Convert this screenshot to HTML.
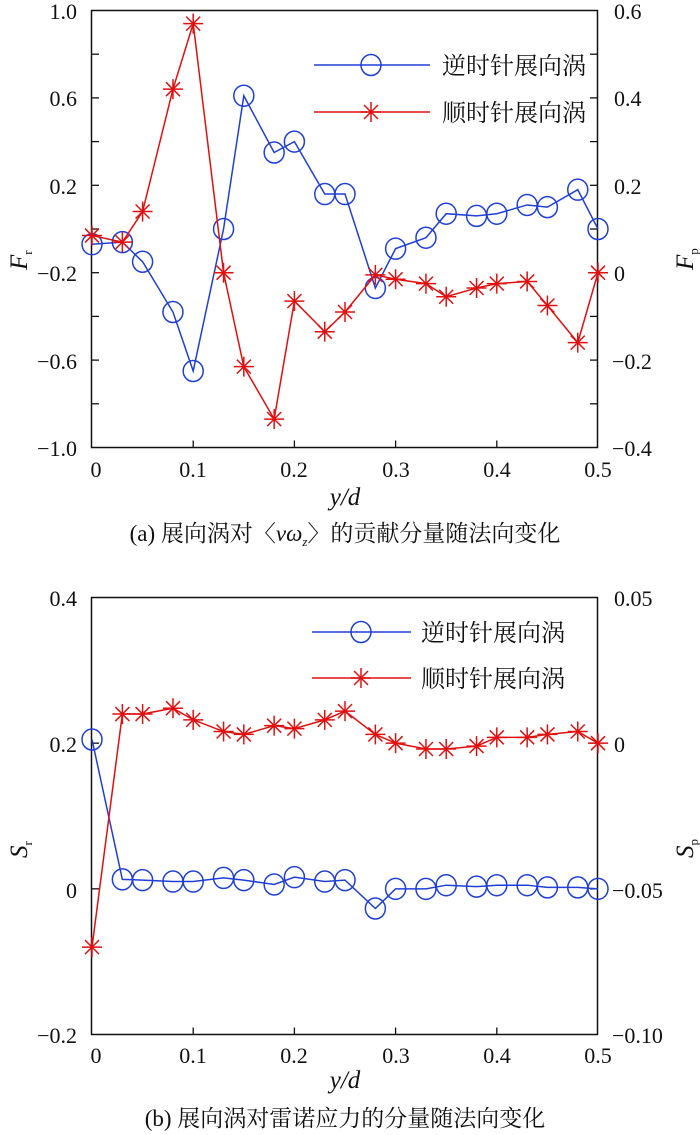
<!DOCTYPE html>
<html><head><meta charset="utf-8"><style>
html,body{margin:0;padding:0;background:#fff;}
svg{display:block;}
text{font-family:"Liberation Serif","Noto Serif CJK SC",serif;fill:#111;font-size:22px;}
.cj{font-family:"Liberation Serif","Noto Serif CJK SC","Noto Sans CJK SC",serif;font-size:23px;}
.lg{font-size:24px;}
.sub{font-size:13px;}
.ax{font-size:25px;}
</style></head><body>
<svg id="s" width="700" height="1135" viewBox="0 0 700 1135" xmlns="http://www.w3.org/2000/svg">
<g>
<rect x="91.5" y="10.5" width="506" height="437" fill="none" stroke="#111" stroke-width="1.5"/>
<text x="77" y="19" text-anchor="end">1.0</text>
<text x="77" y="106" text-anchor="end">0.6</text>
<text x="77" y="194" text-anchor="end">0.2</text>
<text x="77" y="281" text-anchor="end">−0.2</text>
<text x="77" y="369" text-anchor="end">−0.6</text>
<text x="77" y="456" text-anchor="end">−1.0</text>
<text x="614" y="19">0.6</text>
<text x="614" y="106">0.4</text>
<text x="614" y="194">0.2</text>
<text x="614" y="281">0</text>
<text x="612" y="369">−0.2</text>
<text x="612" y="456">−0.4</text>
<text x="96" y="477" text-anchor="middle">0</text>
<text x="193" y="477" text-anchor="middle">0.1</text>
<text x="294" y="477" text-anchor="middle">0.2</text>
<text x="396" y="477" text-anchor="middle">0.3</text>
<text x="497" y="477" text-anchor="middle">0.4</text>
<text x="598" y="477" text-anchor="middle">0.5</text>
<text x="345" y="505" text-anchor="middle" font-style="italic" class="ax">y/d</text>
<text x="345" y="541" text-anchor="middle" class="cj">(a) 展向涡对〈<tspan font-style="italic">vω</tspan><tspan font-style="italic" class="sub" dy="5">z</tspan><tspan dy="-5">〉的贡献分量随法向变化</tspan></text>
<text transform="translate(27,270) rotate(-90)" font-style="italic" class="ax">F<tspan class="sub" font-style="normal" dy="5">r</tspan></text>
<text transform="translate(693,270) rotate(-90)" font-style="italic" class="ax">F<tspan class="sub" font-style="normal" dy="5">p</tspan></text>
<text x="442" y="74" class="cj lg">逆时针展向涡</text>
<text x="442" y="121" class="cj lg">顺时针展向涡</text>

<rect x="91.5" y="597.5" width="506" height="437" fill="none" stroke="#111" stroke-width="1.5"/>
<text x="77" y="606" text-anchor="end">0.4</text>
<text x="77" y="752" text-anchor="end">0.2</text>
<text x="77" y="898" text-anchor="end">0</text>
<text x="77" y="1043" text-anchor="end">−0.2</text>
<text x="614" y="606">0.05</text>
<text x="614" y="752">0</text>
<text x="612" y="898">−0.05</text>
<text x="612" y="1043">−0.10</text>
<text x="96" y="1063" text-anchor="middle">0</text>
<text x="193" y="1063" text-anchor="middle">0.1</text>
<text x="294" y="1063" text-anchor="middle">0.2</text>
<text x="396" y="1063" text-anchor="middle">0.3</text>
<text x="497" y="1063" text-anchor="middle">0.4</text>
<text x="598" y="1063" text-anchor="middle">0.5</text>
<text x="345" y="1088" text-anchor="middle" font-style="italic" class="ax">y/d</text>
<text x="345" y="1126" text-anchor="middle" class="cj">(b) 展向涡对雷诺应力的分量随法向变化</text>
<text transform="translate(27,858) rotate(-90)" font-style="italic" class="ax">S<tspan class="sub" font-style="normal" dy="5">r</tspan></text>
<text transform="translate(693,858) rotate(-90)" font-style="italic" class="ax">S<tspan class="sub" font-style="normal" dy="5">p</tspan></text>
<text x="421" y="641" class="cj lg">逆时针展向涡</text>
<text x="421" y="687" class="cj lg">顺时针展向涡</text>
</g>
<g id="dyn"></g>
</svg>
<script>
var NS="http://www.w3.org/2000/svg",g=document.getElementById("dyn");
function el(n,a){var e=document.createElementNS(NS,n);for(var k in a)e.setAttribute(k,a[k]);g.appendChild(e);return e;}
var xs=[0,0.03,0.05,0.08,0.1,0.13,0.15,0.18,0.2,0.23,0.25,0.28,0.3,0.33,0.35,0.38,0.4,0.43,0.45,0.48,0.5];
function X(v){return 92+v*1012;}
function circ(x,y){el("ellipse",{cx:x,cy:y,rx:10,ry:10.5,fill:"none",stroke:"#1f3fd6","stroke-width":1.5});}
function star(x,y){var s="#e01010",r=10;
 el("line",{x1:x-r,y1:y,x2:x+r,y2:y,stroke:s,"stroke-width":1.5});
 el("line",{x1:x,y1:y-r,x2:x,y2:y+r,stroke:s,"stroke-width":1.5});
 el("line",{x1:x-7,y1:y-7,x2:x+7,y2:y+7,stroke:s,"stroke-width":1.5});
 el("line",{x1:x-7,y1:y+7,x2:x+7,y2:y-7,stroke:s,"stroke-width":1.5});}
function series(vals,Y,col,mk){var p=[];for(var i=0;i<vals.length;i++)p.push(X(xs[i])+","+Y(vals[i]));
 el("polyline",{points:p.join(" "),fill:"none",stroke:col,"stroke-width":1.5});
 for(i=0;i<vals.length;i++)mk(X(xs[i]),Y(vals[i]));}
function ticks(top,bot,nl,nr){var h=bot-top;
 for(var i=1;i<nl;i++){var y=top+h*i/nl;el("line",{x1:92,y1:y,x2:99,y2:y,stroke:"#111","stroke-width":1.3});}
 for(i=1;i<nr;i++){y=top+h*i/nr;el("line",{x1:597,y1:y,x2:590,y2:y,stroke:"#111","stroke-width":1.3});}
 for(i=1;i<5;i++){var x=X(i*0.1);el("line",{x1:x,y1:bot,x2:x,y2:bot-7,stroke:"#111","stroke-width":1.3});}}
ticks(10.5,447.5,10,10);ticks(597.5,1034.5,3,3);
var fr=[-0.07,-0.06,-0.15,-0.38,-0.65,0.0,0.61,0.35,0.40,0.16,0.16,-0.27,-0.09,-0.04,0.07,0.06,0.07,0.11,0.10,0.18,0.0];
var fp=[0.085,0.07,0.14,0.42,0.57,0.0,-0.215,-0.335,-0.065,-0.135,-0.09,-0.005,-0.015,-0.025,-0.055,-0.035,-0.025,-0.02,-0.075,-0.16,0.0];
series(fr,function(v){return 10.5+(1-v)/2*437;},"#1f3fd6",circ);
series(fp,function(v){return 10.5+(0.6-v)/1*437;},"#e01010",star);
el("line",{x1:314,y1:65,x2:430,y2:65,stroke:"#1f3fd6","stroke-width":1.5});circ(371,65);
el("line",{x1:314,y1:112,x2:430,y2:112,stroke:"#e01010","stroke-width":1.5});star(371,112);
var sr=[0.205,0.013,0.012,0.010,0.010,0.015,0.012,0.006,0.016,0.010,0.012,-0.027,0.0,0.0,0.005,0.003,0.005,0.005,0.002,0.002,0.0];
var sp=[-0.07,0.01,0.01,0.012,0.008,0.004,0.003,0.006,0.005,0.008,0.011,0.003,0.0,-0.002,-0.002,-0.001,0.002,0.002,0.003,0.004,0.0];
series(sr,function(v){return 597.5+(0.4-v)/0.6*437;},"#1f3fd6",circ);
series(sp,function(v){return 597.5+(0.05-v)/0.15*437;},"#e01010",star);
el("line",{x1:312,y1:632,x2:411,y2:632,stroke:"#1f3fd6","stroke-width":1.5});circ(361,632);
el("line",{x1:312,y1:678,x2:411,y2:678,stroke:"#e01010","stroke-width":1.5});star(361,678);
</script>
</body></html>
